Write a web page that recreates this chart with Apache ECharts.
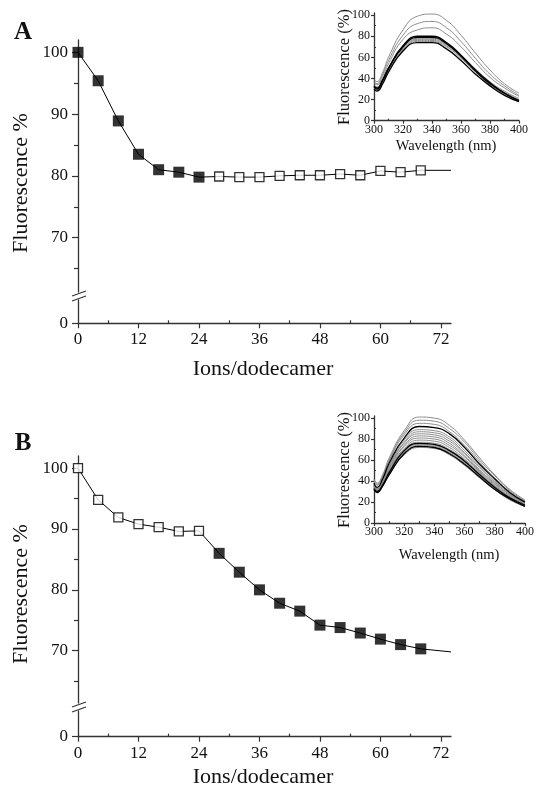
<!DOCTYPE html>
<html><head><meta charset="utf-8">
<script src="https://cdn.jsdelivr.net/npm/echarts@6.0.0/dist/echarts.min.js"></script>
<style>html,body{margin:0;padding:0;background:#fff}#c{width:536px;height:788px}</style>
</head><body><div id="c"></div>
<script>
// ---------- DATA ----------
const ions = [0,4,8,12,16,20,24,28,32,36,40,44,48,52,56,60,64,68];
const fluorA = [100,95.4,88.9,83.5,81.0,80.6,79.8,79.9,79.8,79.8,80.0,80.1,80.1,80.3,80.1,80.8,80.6,80.9];
const markerA = ['f','f','f','f','f','f','f','o','o','o','o','o','o','o','o','o','o','o'];
const fluorB = [100,94.8,91.9,90.8,90.3,89.6,89.7,86.0,82.9,80.0,77.8,76.5,74.2,73.8,72.9,71.9,71.0,70.3];
const markerB = ['o','o','o','o','o','o','o','f','f','f','f','f','f','f','f','f','f','f'];
const lineEndA = [74, 80.9];
const lineEndB = [74, 69.8];
const xTicks = [0,12,24,36,48,60,72];
const xMinorTicks = [6,18,30,42,54,66];
const yTicks = [70,80,90,100];
const yMinorTicks = [65,75,85,95];
const yLowTicks = [0];

const wavelength = [300,302,306,310,320,330,340,350,360,370,380,390,400];
const insetXTicks = [300,320,340,360,380,400];
const insetXMinor = [310,330,350,370,390];
const insetYTicks = [0,20,40,60,80,100];
const insetYMinor = [10,30,50,70,90];

const specA_gray = [
  [39,37,46,60,86,99,101,95,81,64,48,35,26],
  [37,35,44,57,81,92,94,88,75,59,44,33,24],
  [36,34,42,54,77,86,88,82,70,55,41,31,23],
  [34,32,39,50,70,78,78,73,62,49,37,28,21],
  [33,31,38,49,69,77,77,72,61,48,36,27,20],
  [32,30,37,48,68,76,76,71,60,47,35,26,19],
  [31,29,36,47,67,75,75,70,59,46,34,25,19]
];
const specA_black = [
  [33,31,39,50,71,80,80,74,62,48,36,26,19],
  [32,30,38,49,70,79,79,73,61,47,35,26,19],
  [30,28,35,46,66,74,74,68,57,44,33,24,18]
];
const specB_gray = [
  [42,38,47,62,88,101,100,93,79,62,46,32,22],
  [41,37,46,60,86,98,97,90,77,60,45,31,21],
  [40,36,45,59,84,95,94,87,74,58,43,30,21],
  [37,33,42,55,79,89,88,82,69,54,40,28,19],
  [36,33,41,54,77,87,86,80,67,53,39,27,19],
  [36,32,40,53,76,85,84,78,66,51,38,27,18],
  [35,32,40,52,74,83,82,76,64,50,37,26,18],
  [35,31,39,51,73,81,80,74,63,49,36,25,18],
  [34,31,38,50,71,79,78,72,61,48,35,25,17],
  [34,31,38,49,70,77,76,70,60,47,35,24,17],
  [33,30,37,48,68,75,74,68,58,45,33,23,16],
  [32,30,36,47,67,74,73,67,57,44,33,23,16],
  [32,29,36,46,65,72,71,65,55,43,32,22,16]
];
const specB_black = [
  [38,34,43,57,81,92,91,85,72,56,42,29,20],
  [33,30,37,48,69,76,75,69,59,46,34,24,17],
  [32,29,36,46,66,73,72,66,56,44,32,23,16]
];

// ---------- CHART ----------
const FONT = "'Liberation Serif','Times New Roman',serif";
const AXC = '#333';

function mkAxis(pos, grid, min, max, show, ticks, tickLen, inside, labels, fs, margin, line) {
  return {
    type:'value', gridIndex:grid, position:pos, offset:0, min:min, max:max, show:show,
    axisLine:{show: !!line, onZero:false, lineStyle:{color:AXC, width:1.3}},
    axisTick:{show: !!ticks, customValues: ticks || [], length:tickLen, inside:inside, lineStyle:{color:AXC, width:1.2}},
    axisLabel:{show: !!labels, customValues: labels || [], fontFamily:FONT, fontSize:fs, color:'#111', margin:margin},
    splitLine:{show:false}
  };
}

const grids = [
  {left:78, width:373, top:40, height:252},
  {left:78, width:373, top:300, height:23.3},
  {left:374, width:145, top:13, height:107.7},
  {left:78, width:373, top:456, height:247},
  {left:78, width:373, top:711, height:25.7},
  {left:374, width:151, top:416, height:107.1}
].map(g => Object.assign({outerBoundsMode:'none', containLabel:false}, g));

const xAxes = [];
const yAxes = [];
function buildPanel(base, upMin, lowMax) {
  xAxes.push(mkAxis('bottom', base, 0, 74, false, null, 0, false, null, 0, 0, false));
  xAxes.push(mkAxis('bottom', base+1, 0, 74, true, xTicks, 5, false, xTicks, 17, 8, true));
  xAxes.push(mkAxis('bottom', base+1, 0, 74, true, xMinorTicks, 3, true, null, 0, 0, false));
  xAxes.push(mkAxis('bottom', base+2, 300, 400, true, insetXTicks, 3, false, insetXTicks, 12, 3, true));
  xAxes.push(mkAxis('bottom', base+2, 300, 400, true, insetXMinor, 2, true, null, 0, 0, false));
  yAxes.push(mkAxis('left', base, upMin, 102, true, yTicks, 6, false, yTicks, 17, 10, true));
  yAxes.push(mkAxis('left', base, upMin, 102, true, yMinorTicks, 4, false, null, 0, 0, false));
  yAxes.push(mkAxis('left', base+1, 0, lowMax, true, yLowTicks, 6, false, yLowTicks, 17, 10, true));
  yAxes.push(mkAxis('left', base+2, 0, 102, true, insetYTicks, 3, false, insetYTicks, 12, 4, true));
  yAxes.push(mkAxis('left', base+2, 0, 102, true, insetYMinor, 2, true, null, 0, 0, false));
}
buildPanel(0, 61.2, 3.8);
buildPanel(3, 61.4, 4.2);

const series = [];
function mainSeries(fl, mk, end, xi, yi) {
  const pts = ions.map((x,i) => [x, fl[i]]);
  series.push({type:'line', xAxisIndex:xi, yAxisIndex:yi, data: pts.concat([end]), symbol:'none',
    lineStyle:{color:'#000', width:1}, z:2, silent:true});
  series.push({type:'scatter', xAxisIndex:xi, yAxisIndex:yi, data: pts.filter((p,i)=>mk[i]==='f'),
    symbol:'rect', symbolSize:11, itemStyle:{color:'#000'}, z:3, silent:true});
  series.push({type:'scatter', xAxisIndex:xi, yAxisIndex:yi, data: pts.filter((p,i)=>mk[i]==='o'),
    symbol:'rect', symbolSize:9, itemStyle:{color:'#fff', borderColor:'#000', borderWidth:1.3}, z:3, silent:true});
}
function insetSeries(list, color, width, xi, yi) {
  list.forEach(arr => series.push({type:'line', xAxisIndex:xi, yAxisIndex:yi,
    data: wavelength.map((w,i)=>[w, arr[i]]), smooth:0.5, symbol:'none',
    lineStyle:{color:color, width:width}, silent:true}));
}
mainSeries(fluorA, markerA, lineEndA, 0, 0);
insetSeries(specA_gray, '#8c8c8c', 1, 3, 3);
insetSeries(specA_black, '#000', 1.3, 3, 3);
mainSeries(fluorB, markerB, lineEndB, 5, 5);
insetSeries(specB_gray, '#8c8c8c', 1, 8, 8);
insetSeries(specB_black, '#000', 1.3, 8, 8);

function txt(t, x, y, size, rot, bold) {
  return {type:'text', x:x, y:y, rotation: rot ? Math.PI/2 : 0,
    style:{text:t, fontFamily:FONT, fontSize:size, fontWeight: bold ? 'bold' : 'normal', fill:'#111',
      align:'center', verticalAlign:'middle'}};
}
function brk(y) {
  return [
    {type:'line', shape:{x1:72, y1:y+2.5, x2:86, y2:y-2.5}, style:{stroke:AXC, lineWidth:1.2}},
    {type:'line', shape:{x1:72, y1:y+7.5, x2:86, y2:y+2.5}, style:{stroke:AXC, lineWidth:1.2}}
  ];
}
const graphic = [
  txt('A', 23, 33, 25, false, true),
  txt('B', 23, 444, 25, false, true),
  txt('Fluorescence %', 21, 183, 22, true),
  txt('Fluorescence %', 21, 594, 22, true),
  txt('Ions/dodecamer', 263, 369, 22),
  txt('Ions/dodecamer', 263, 777, 22),
  txt('Fluorescence (%)', 345, 67, 16.5, true),
  txt('Fluorescence (%)', 345, 470, 16.5, true),
  txt('Wavelength (nm)', 446, 146, 14.5),
  txt('Wavelength (nm)', 449, 555, 14.5)
].concat(brk(293.5), brk(704.5));

const chart = echarts.init(document.getElementById('c'), null, {renderer:'canvas'});
chart.setOption({
  animation:false, backgroundColor:'#fff',
  grid: grids, xAxis: xAxes, yAxis: yAxes, series: series, graphic: graphic
});
</script></body></html>
